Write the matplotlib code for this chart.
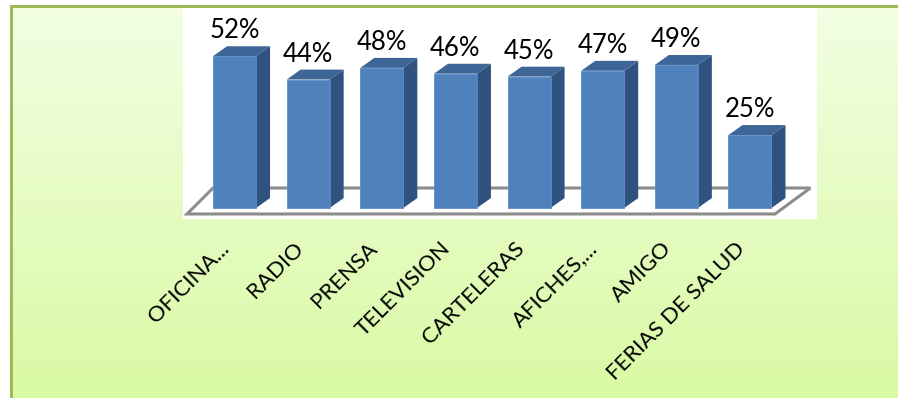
import numpy as np
import matplotlib
matplotlib.use("Agg")
import matplotlib.pyplot as plt
from matplotlib.patches import Polygon
from matplotlib.colors import to_rgb

# Medios por los que se informan (porcentaje)
categorias = ['OFICINA...', 'RADIO', 'PRENSA', 'TELEVISION', 'CARTELERAS',
              'AFICHES,...', 'AMIGO', 'FERIAS DE SALUD']
porcentajes = [52, 44, 48, 46, 45, 47, 49, 25]

COLOR_FRENTE = '#4F81BD'
COLOR_LADO = '#30527E'
COLOR_TAPA = '#3D6697'
FUENTE = 'Lato'

W, H = 898, 398
fig = plt.figure(figsize=(W / 100, H / 100), dpi=100)
fig.patch.set_facecolor('white')

# Fondo con degradado verde (blanco fuera del marco) y borde
bg = fig.add_axes([0, 0, 1, 1])
arriba = np.array(to_rgb('#F3FEE4'))
abajo = np.array(to_rgb('#D9FAA4'))
t = np.linspace(0, 1, H).reshape(-1, 1, 1)
fondo = np.ones((H, W, 3)) * (arriba + (abajo - arriba) * t)
fondo[:5, :, :] = 1.0
fondo[:, :10, :] = 1.0
fondo[5:8, 10:, :] = to_rgb('#9BBB59')
fondo[5:, 10:13, :] = to_rgb('#9BBB59')
bg.imshow(fondo, extent=[0, W, H, 0], interpolation='nearest', zorder=0)
bg.set_xlim(0, W)
bg.set_ylim(H, 0)
bg.axis('off')

# Area del grafico
x0, x1, y0, y1 = 183, 817, 8, 219
ax = fig.add_axes([x0 / W, 1 - y1 / H, (x1 - x0) / W, (y1 - y0) / H])
ax.set_facecolor('white')
for s in ax.spines.values():
    s.set_visible(False)
ax.set_xlim(-0.70, 7.91)
ax.set_ylim(-3.77, 68.5)
ax.set_xticks([])
ax.set_yticks([])

n = len(categorias)
x = np.arange(n)
ancho = 0.584
dx, dy = 0.19, 3.4

# Piso en perspectiva
piso = Polygon([(-0.645, -2.05), (n - 1 + 0.34, -2.05),
                (n - 1 + 0.82, 6.85), (-0.292, 6.85)],
               closed=True, facecolor='white', edgecolor='#8C8C8C', lw=2.2, zorder=1)
ax.add_patch(piso)

# Barras 3D: frente, lado y tapa
ax.bar(x, porcentajes, width=ancho, color=COLOR_FRENTE, edgecolor='#5B8CC8',
       lw=0.6, zorder=3)
for xi, v in zip(x, porcentajes):
    xr = xi + ancho / 2
    xl = xi - ancho / 2
    lado = Polygon([(xr, 0), (xr + dx, dy), (xr + dx, v + dy), (xr, v)],
                   closed=True, facecolor=COLOR_LADO, edgecolor='none', zorder=2)
    tapa = Polygon([(xl, v), (xr, v), (xr + dx, v + dy), (xl + dx, v + dy)],
                   closed=True, facecolor=COLOR_TAPA, edgecolor='none', zorder=2)
    ax.add_patch(lado)
    ax.add_patch(tapa)
    ax.text(xi, v + dy + 1.0, f'{v}%', ha='center', va='bottom',
            fontsize=18.5, family=FUENTE, color='black', zorder=4)

# Etiquetas de categoria inclinadas
for xi, cat in zip(x, categorias):
    ax.text(xi - 0.11, -0.125, cat, transform=ax.get_xaxis_transform(),
            rotation=45, rotation_mode='anchor', ha='right', va='center',
            fontsize=16, family=FUENTE, color='black', clip_on=False)

fig.savefig('out.png', dpi=100)
